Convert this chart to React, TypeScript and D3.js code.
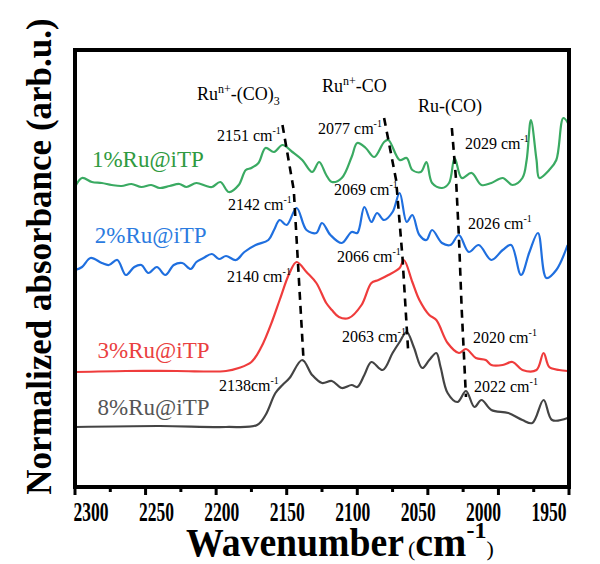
import * as d3 from 'd3';

// FTIR CO-adsorption spectra (normalized, offset)
const spec1: [number, number][] = [
  [2300, 3.0], [2295, 3.09], [2288, 3.05], [2281, 3.04], [2274, 3.02], [2267, 3.01], [2260, 3.03],
  [2253, 3.0], [2246, 3.02], [2240, 2.99], [2233, 3.01], [2226, 3.03], [2221, 3.0], [2214, 3.04],
  [2207, 3.01], [2203, 3.0], [2197, 3.05], [2191, 2.95], [2184, 3.02], [2179, 3.17], [2175, 3.19],
  [2170, 3.24], [2165, 3.39], [2159, 3.35], [2153, 3.42], [2146, 3.35], [2139, 3.27], [2132, 3.15],
  [2127, 3.25], [2122, 3.12], [2118, 3.05], [2111, 3.09], [2104, 3.3], [2100, 3.44], [2094, 3.39],
  [2088, 3.3], [2081, 3.45], [2078, 3.47], [2070, 3.27], [2065, 3.29], [2061, 3.17], [2055, 3.15],
  [2051, 3.25], [2047, 3.04], [2040, 2.99], [2035, 3.04], [2031, 3.29], [2026, 3.09], [2019, 3.14],
  [2012, 3.02], [2005, 3.04], [1997, 3.09], [1990, 3.02], [1983, 3.09], [1980, 3.27], [1977, 3.67],
  [1973, 3.27], [1971, 3.09], [1964, 3.17], [1959, 3.27], [1954, 3.69], [1950, 3.62],
];

const spec2: [number, number][] = [
  [2300, 2.17], [2295, 2.2], [2289, 2.29], [2281, 2.24], [2276, 2.22], [2270, 2.27], [2264, 2.12],
  [2258, 2.2], [2253, 2.22], [2248, 2.14], [2242, 2.2], [2236, 2.12], [2230, 2.22], [2224, 2.24],
  [2218, 2.18], [2214, 2.25], [2209, 2.29], [2203, 2.33], [2198, 2.28], [2193, 2.31], [2186, 2.27],
  [2180, 2.35], [2172, 2.42], [2163, 2.47], [2159, 2.57], [2155, 2.67], [2150, 2.62], [2143, 2.79],
  [2136, 2.57], [2129, 2.54], [2125, 2.64], [2119, 2.52], [2111, 2.44], [2104, 2.55], [2100, 2.54],
  [2095, 2.8], [2090, 2.65], [2086, 2.74], [2081, 2.67], [2075, 2.75], [2070, 2.94], [2065, 2.65],
  [2061, 2.72], [2056, 2.52], [2051, 2.47], [2047, 2.57], [2040, 2.44], [2034, 2.42], [2028, 2.52],
  [2021, 2.35], [2014, 2.42], [2005, 2.27], [1997, 2.37], [1991, 2.42], [1984, 2.12], [1978, 2.35],
  [1972, 2.54], [1966, 2.09], [1959, 2.17], [1951, 2.42],
];

const spec3: [number, number][] = [
  [2300, 1.15], [2264, 1.16], [2228, 1.16], [2193, 1.16], [2184, 1.19], [2175, 1.25], [2168, 1.4],
  [2160, 1.67], [2155, 1.87], [2148, 2.14], [2143, 2.25], [2136, 2.15], [2129, 2.04], [2122, 1.84],
  [2118, 1.77], [2113, 1.7], [2106, 1.69], [2097, 1.82], [2090, 2.04], [2085, 2.07], [2078, 2.12],
  [2070, 2.19], [2067, 2.27], [2061, 2.05], [2056, 1.87], [2049, 1.72], [2044, 1.67], [2036, 1.44],
  [2028, 1.34], [2023, 1.38], [2016, 1.29], [2009, 1.27], [2005, 1.22], [1997, 1.22], [1990, 1.25],
  [1983, 1.17], [1973, 1.17], [1968, 1.34], [1964, 1.2], [1957, 1.17], [1951, 1.16],
];

const spec8: [number, number][] = [
  [2300, 0.6], [2240, 0.61], [2193, 0.6], [2171, 0.62], [2165, 0.72], [2158, 0.94], [2153, 1.02],
  [2148, 1.09], [2139, 1.27], [2132, 1.12], [2125, 1.04], [2118, 1.06], [2111, 0.99], [2104, 1.02],
  [2100, 1.0], [2095, 1.12], [2090, 1.25], [2082, 1.17], [2075, 1.34], [2070, 1.45], [2065, 1.55],
  [2060, 1.4], [2054, 1.19], [2049, 1.27], [2044, 1.34], [2041, 1.2], [2036, 0.94], [2029, 0.85],
  [2023, 0.96], [2017, 0.8], [2012, 0.87], [2005, 0.77], [1993, 0.74], [1983, 0.67], [1976, 0.64],
  [1968, 0.87], [1962, 0.67], [1951, 0.69],
];

const seriesNames = ['1%Ru@iTP', '2%Ru@iTP', '3%Ru@iTP', '8%Ru@iTP'];
const seriesColors = ['#3aaa62', '#1f6fdf', '#ef3c3c', '#444444'];
const nameColors = ['#2f9a40', '#2b7be0', '#ea4040', '#555555'];
const nameAnchors: [number, number][] = [[2288, 3.2], [2286, 2.44], [2284, 1.29], [2284, 0.72]];

// dashed guides through the band maxima
const guide1: [number, number][] = [[2153, 3.62], [2145, 2.97], [2138, 1.25]];
const guide2: [number, number][] = [[2081, 3.69], [2072.5, 3.07], [2068, 2.3], [2064, 1.37]];
const guide3: [number, number][] = [[2033, 3.59], [2030, 3.07], [2028, 2.5], [2026, 1.77], [2023, 0.9]];

const peakLabels: [number, number, string][] = [
  [2199.4, 3.46, '2151 cm'], [2127.8, 3.53, '2077 cm'], [2023.7, 3.38, '2029 cm'],
  [2116.5, 2.92, '2069 cm'], [2191.6, 2.77, '2142 cm'], [2021.6, 2.58, '2026 cm'],
  [2114.4, 2.25, '2066 cm'], [2192.3, 2.05, '2140 cm'], [2110.8, 1.45, '2063 cm'],
  [2018.0, 1.44, '2020 cm'], [2198.0, 0.96, '2138cm'], [2017.3, 0.95, '2022 cm'],
];

const xTicks = [2300, 2250, 2200, 2150, 2100, 2050, 2000, 1950];
const xMinor = [2275, 2225, 2175, 2125, 2075, 2025, 1975];

const W = 600, H = 564;
const m = { left: 75, right: 31, top: 50, bottom: 77 };
const font = 'Liberation Serif, Times New Roman, serif';

export default function App() {
  const x = d3.scaleLinear().domain([2300, 1950]).range([m.left, W - m.right]);
  const y = d3.scaleLinear().domain([0, 4.37]).range([H - m.bottom, m.top]);
  // tick labels sit a bit inside the frame in the original
  const xl = d3.scaleLinear().domain([2300, 1950]).range([m.left + 16, W - m.right - 20]);
  const line = d3.line<[number, number]>().x(d => x(d[0])).y(d => y(d[1])).curve(d3.curveCatmullRom.alpha(0.5));
  const straight = d3.line<[number, number]>().x(d => x(d[0])).y(d => y(d[1]));
  const all = [spec1, spec2, spec3, spec8];
  const bottom = H - m.bottom;

  return (
    <svg width={W} height={H} style={{ position: 'absolute', left: 0, top: 0, background: '#fff', fontFamily: font }}>
      <defs>
        <clipPath id="plot">
          <rect x={m.left} y={m.top} width={W - m.left - m.right} height={bottom - m.top} />
        </clipPath>
      </defs>
      <g clipPath="url(#plot)">
        {all.map((s, i) => (
          <path key={i} d={line(s) || ''} fill="none" stroke={seriesColors[i]} strokeWidth={2.2} />
        ))}
      </g>
      {[guide1, guide2, guide3].map((g, i) => (
        <path key={i} d={straight(g) || ''} fill="none" stroke="#000" strokeWidth={2.6} strokeDasharray="8,6" />
      ))}

      {seriesNames.map((n, i) => (
        <text key={n} x={x(nameAnchors[i][0])} y={y(nameAnchors[i][1])} fontSize={23} fill={nameColors[i]}>{n}</text>
      ))}

      {peakLabels.map(([w, v, t]) => (
        <text key={t} x={x(w)} y={y(v)} fontSize={16} fill="#000">
          {t}<tspan fontSize={10} dy={-7}>-1</tspan>
        </text>
      ))}

      <text x={x(2213.6)} y={y(3.87)} fontSize={18}>
        Ru<tspan fontSize={12} dy={-7}>n+</tspan><tspan dy={7}>-(CO)</tspan><tspan fontSize={12} dy={5}>3</tspan>
      </text>
      <text x={x(2125)} y={y(3.95)} fontSize={18}>
        Ru<tspan fontSize={12} dy={-7}>n+</tspan><tspan dy={7}>-CO</tspan>
      </text>
      <text x={x(2057)} y={y(3.75)} fontSize={18}>Ru-(CO)</text>

      {/* frame */}
      <rect x={m.left} y={m.top} width={W - m.left - m.right} height={bottom - m.top} fill="none" stroke="#000" strokeWidth={4} />

      {xTicks.map(t => (
        <g key={t}>
          <line x1={x(t)} x2={x(t)} y1={bottom} y2={bottom + 8} stroke="#000" strokeWidth={3} />
          <text x={xl(t)} y={bottom + 34} textAnchor="middle" fontSize={27} fontWeight="bold" textLength={35} lengthAdjust="spacingAndGlyphs">{t}</text>
        </g>
      ))}
      {xMinor.map(t => (
        <line key={t} x1={x(t)} x2={x(t)} y1={bottom} y2={bottom + 5} stroke="#000" strokeWidth={3} />
      ))}

      <text x={186} y={556} fontSize={40} fontWeight="bold">
        <tspan textLength={218} lengthAdjust="spacingAndGlyphs">Wavenumber</tspan>
        <tspan fontSize={22} fontWeight="normal" dx={4}>(</tspan>
        <tspan>cm</tspan>
        <tspan fontSize={24} dy={-18}>-1</tspan>
        <tspan fontSize={22} fontWeight="normal" dy={18}>)</tspan>
      </text>

      <text transform={`translate(51, ${(m.top + bottom) / 2 - 12}) rotate(-90)`} textAnchor="middle" fontSize={35} fontWeight="bold">
        Normalized absorbance (arb.u.)
      </text>
    </svg>
  );
}
